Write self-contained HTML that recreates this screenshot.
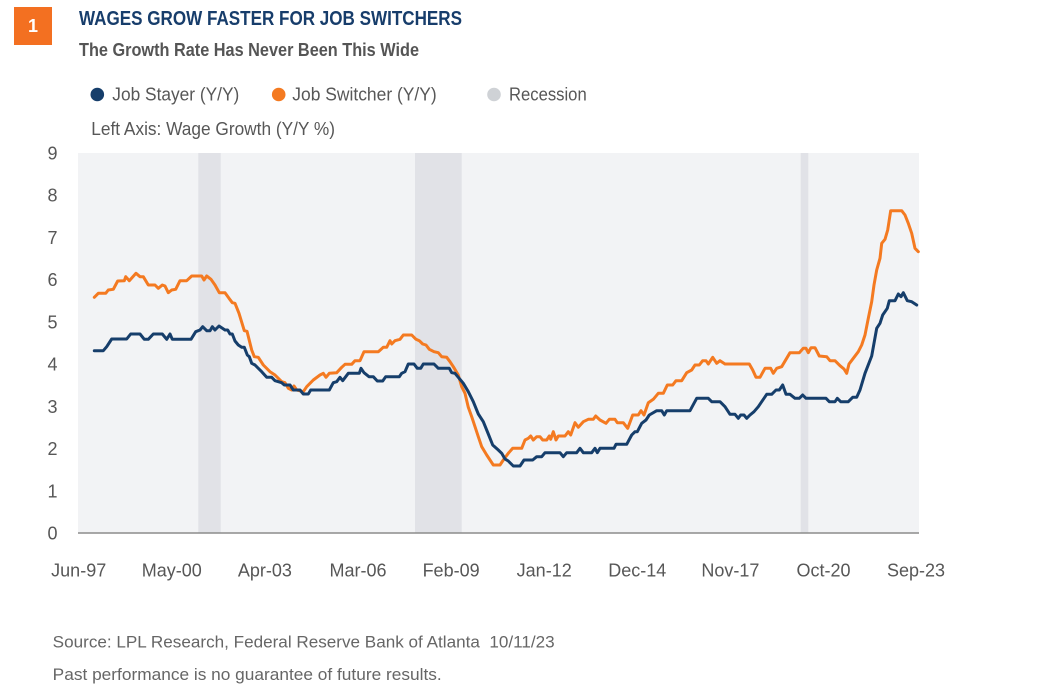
<!DOCTYPE html>
<html>
<head>
<meta charset="utf-8">
<style>
  html, body { margin: 0; padding: 0; background: #ffffff; }
  svg { display: block; }
  text { font-family: "Liberation Sans", "DejaVu Sans", sans-serif; }
</style>
</head>
<body>
<svg width="1064" height="696" viewBox="0 0 1064 696" xmlns="http://www.w3.org/2000/svg">
  <rect x="0" y="0" width="1064" height="696" fill="#ffffff"/>

  <!-- Header -->
  <rect x="14" y="7" width="38" height="38" fill="#f37021"/>
  <text x="33" y="32" font-size="18" font-weight="bold" fill="#ffffff" text-anchor="middle">1</text>
  <text x="79" y="25" font-size="20" font-weight="bold" fill="#173d6b" textLength="383" lengthAdjust="spacingAndGlyphs">WAGES GROW FASTER FOR JOB SWITCHERS</text>
  <text x="79" y="56" font-size="18.5" font-weight="bold" fill="#555555" textLength="340" lengthAdjust="spacingAndGlyphs">The Growth Rate Has Never Been This Wide</text>

  <!-- Legend -->
  <circle cx="97.3" cy="94.5" r="6.8" fill="#163e6b"/>
  <text x="112.3" y="100.7" font-size="18" fill="#575757" textLength="127" lengthAdjust="spacingAndGlyphs">Job Stayer (Y/Y)</text>
  <circle cx="278.7" cy="94.5" r="6.8" fill="#f47a21"/>
  <text x="292.3" y="100.7" font-size="18" fill="#575757" textLength="144.4" lengthAdjust="spacingAndGlyphs">Job Switcher (Y/Y)</text>
  <circle cx="494" cy="94.5" r="6.8" fill="#cfd2d6"/>
  <text x="509" y="100.7" font-size="18" fill="#575757" textLength="77.7" lengthAdjust="spacingAndGlyphs">Recession</text>

  <text x="91.3" y="135" font-size="18" fill="#575757" textLength="243.7" lengthAdjust="spacingAndGlyphs">Left Axis: Wage Growth (Y/Y %)</text>

  <!-- Plot background -->
  <rect x="78" y="153" width="841" height="380" fill="#f2f3f5"/>
  <!-- Recessions -->
  <rect x="198.3" y="153" width="22.4" height="380" fill="#e1e2e7"/>
  <rect x="415" y="153" width="46.7" height="380" fill="#e1e2e7"/>
  <rect x="800.7" y="153" width="7.6" height="380" fill="#e1e2e7"/>

  <!-- Axis line -->
  <line x1="78" y1="533" x2="919" y2="533" stroke="#8c8c8c" stroke-width="1.5"/>

  <!-- Y labels -->
  <g font-size="18" fill="#575757" text-anchor="middle">
    <text x="52.5" y="539.5">0</text>
    <text x="52.5" y="497.3">1</text>
    <text x="52.5" y="455.1">2</text>
    <text x="52.5" y="412.8">3</text>
    <text x="52.5" y="370.6">4</text>
    <text x="52.5" y="328.4">5</text>
    <text x="52.5" y="286.2">6</text>
    <text x="52.5" y="244.0">7</text>
    <text x="52.5" y="201.7">8</text>
    <text x="52.5" y="159.5">9</text>
  </g>

  <!-- X labels -->
  <g font-size="18" fill="#575757" text-anchor="middle">
    <text x="78.7" y="576.7">Jun-97</text>
    <text x="171.8" y="576.7">May-00</text>
    <text x="264.9" y="576.7">Apr-03</text>
    <text x="358" y="576.7">Mar-06</text>
    <text x="451.1" y="576.7">Feb-09</text>
    <text x="544.2" y="576.7">Jan-12</text>
    <text x="637.3" y="576.7">Dec-14</text>
    <text x="730.4" y="576.7">Nov-17</text>
    <text x="823.5" y="576.7">Oct-20</text>
    <text x="916" y="576.7">Sep-23</text>
  </g>

  <!-- Job Switcher (orange) -->
  <polyline fill="none" stroke="#f47a21" stroke-width="3" stroke-linejoin="round" stroke-linecap="round"
    points="94.3,297.3 98.3,293.3 105.7,293.3 108.3,290 113.3,289.3 117.7,281 124.3,280.7 125.7,276.7 129.3,280.7 136,273.3 140,276.7 143.3,276.7 148.3,285 155,285 158.3,288.3 162.3,285 165,286 168.3,292.7 171.7,290 175.7,289.3 180,280.7 186.7,280.7 191.7,276 201.7,276 204,280 206.7,276 211,279.3 215,285 219.3,292.7 225,292.7 229,298.3 232.3,302.7 235,303.3 239,313.3 244.3,330.7 247,331.3 251.7,350 254.3,356.7 258.3,357.3 263.3,365 270,371.7 275,375 281.7,381.7 285,382.7 288.3,388.3 291.7,390 294,386 296.7,390 303.3,391.7 306.7,386.7 313.3,380 320,375 323.3,373.3 326,377.3 329.3,373.3 336.7,372.7 341.7,367.3 345,364.3 351.7,364.3 355,360.7 360,360.7 364,351.7 378.3,351.7 383.3,347.3 386.7,347.3 390,340.7 391.7,344 395,340.7 400,339.3 403.3,335 411.7,335 416,339.3 419.3,340.7 422.7,344 426,345 429.3,349.3 434,351.7 438.3,352.7 441.7,356.7 446.7,357.3 450,361.7 453.3,366.7 458.3,375 461.7,386.7 465,393.3 468.3,407.3 471.7,416.7 475,426.7 478.3,436.7 481.7,446.7 486.7,455 493.3,465 500,465 503.3,460 508.3,453.3 512.7,448.3 521.7,448.3 525,440 528.3,438.3 530.7,436 533.3,440 536.7,436.7 540,436.7 542.7,440 546.7,440 549.3,436 550.7,439.3 553.3,431.7 556,440 558.3,436 565,436 568.3,431.7 570.7,435 575,422.7 578.3,427.3 583.3,421.7 588.3,419.3 593.3,419.3 595.7,416 600,420 606,423.3 609.3,419.3 615,419.3 617.3,422.7 623.3,422.7 627.7,428.3 632.7,415 638.3,415 641,410.7 644,415 648.3,402.7 653.3,399.3 658.3,393.3 663.3,393.3 667.3,385 672.7,385 676,380.7 681.7,380.7 686.7,372.7 691.7,370 695,365 699.3,365 702.7,360.7 706,360.7 708.3,364 712.7,357.3 716.7,363.3 720,360.7 725,364 749.3,364 752.7,370 756,377.3 760,377.3 765,368.3 770.7,368.3 773.3,373.3 776.7,368.3 781.7,366.7 790,352.7 799.3,352.7 803.3,348.3 806,348.3 808.3,352.7 811,347.7 815,347.7 819.3,356 826.7,356.7 830,360.7 835,360.7 840,365.7 844,369 846.7,373.3 849,364 853.3,358.3 858.3,351.7 861.7,345 865,335 868.3,318.3 871.7,301.7 874,285 876.7,270 880,258.3 881.7,243.3 885,239.3 887.7,230 890.7,210.7 901.7,210.7 905,215 908.3,223.3 911.7,233.3 915,248.3 918.3,251.7"/>

  <!-- Job Stayer (navy) -->
  <polyline fill="none" stroke="#163e6b" stroke-width="3" stroke-linejoin="round" stroke-linecap="round"
    points="94.3,350.7 103.3,350.7 106.7,346.7 111.7,339 126.7,339 130.7,334 140,334 144.3,339.3 148.3,339.3 153.3,334 162.3,334 166.7,339.3 170,334 172.3,339.3 191,339.3 195.7,331.7 200,330 202.7,326.7 206.7,330.7 210,330.7 212.3,326.7 215,330 219,326 225,330 227.7,330 230,334 232.3,334 235,341 238.3,345 241.7,347.3 244.3,347.3 247.3,355 249.3,356.7 251.7,363.3 255,365 261.7,371.7 266.7,377.3 271.7,377.3 275,380.7 281.7,382.7 284.3,385 290,385 293.3,390 300,390 303.3,394 308.3,394 310.7,390 329.3,390 333.3,382.7 336.7,381.7 340,377.3 342.7,380.7 348.3,373.3 359.3,373.3 361,368.3 364,372.7 369,376.7 373.3,376.7 377.3,381 382.7,381 385.7,376.7 399.3,376.7 401.7,373.3 405,371.7 408.3,364 414,364 417.3,368.3 420.7,368.3 423.3,364 434,364 438.3,368.3 449.3,368.3 451.7,372.7 455,373.3 458.3,377.3 463.3,383.3 468.3,391.7 473.3,401.7 478.3,414 483.3,421.7 488.3,434 492.7,445 498.3,450 501.7,453.3 505,459 508.3,461 513.3,466 520,466 524,460 532.7,460 536.7,456.7 541.7,456.7 545,452.7 560,452.7 563.3,456.7 566.7,452.7 576.7,452.7 580,448.3 583.3,452.7 591.7,452.7 595,448.3 597.3,452.7 600,448.3 614,448.3 616,444.3 626.7,444.3 631.7,435 635,431.7 637.3,431.7 641.7,423.3 646,420 649.3,415 656.7,410.7 661.7,410.7 664.3,415 666.7,410.7 690,410.7 696.7,398.3 708.3,398.3 711.7,401.7 720,401.7 725,406.7 730,414.3 735,414.3 738.3,418.3 740.7,415 744,415 746.7,418.3 750,415 754,411.7 758.3,406.7 766.7,394.3 771.7,394.3 776,390 779.3,390 782.7,385 786,394.3 790,394.3 795,398.3 799.3,398.3 802.7,395 806,398.3 826,398.3 829.3,401.7 835,401.7 837.3,398.3 840.7,401.7 848.3,401.7 852.7,397.3 856.7,397.3 860,390 865,373.3 871.7,356 876.7,328.3 880,323.3 882.7,315 887.3,308.3 889.3,300.7 895,300.7 898.3,294 901,296.7 903.3,292.7 907.3,300.7 911.7,301.7 916.7,305"/>

  <!-- Footer -->
  <text x="52.7" y="647.7" font-size="16.5" fill="#666666" textLength="502" lengthAdjust="spacingAndGlyphs">Source: LPL Research, Federal Reserve Bank of Atlanta&#160;&#160;10/11/23</text>
  <text x="52.7" y="680" font-size="16.5" fill="#666666" textLength="389" lengthAdjust="spacingAndGlyphs">Past performance is no guarantee of future results.</text>
</svg>
</body>
</html>
